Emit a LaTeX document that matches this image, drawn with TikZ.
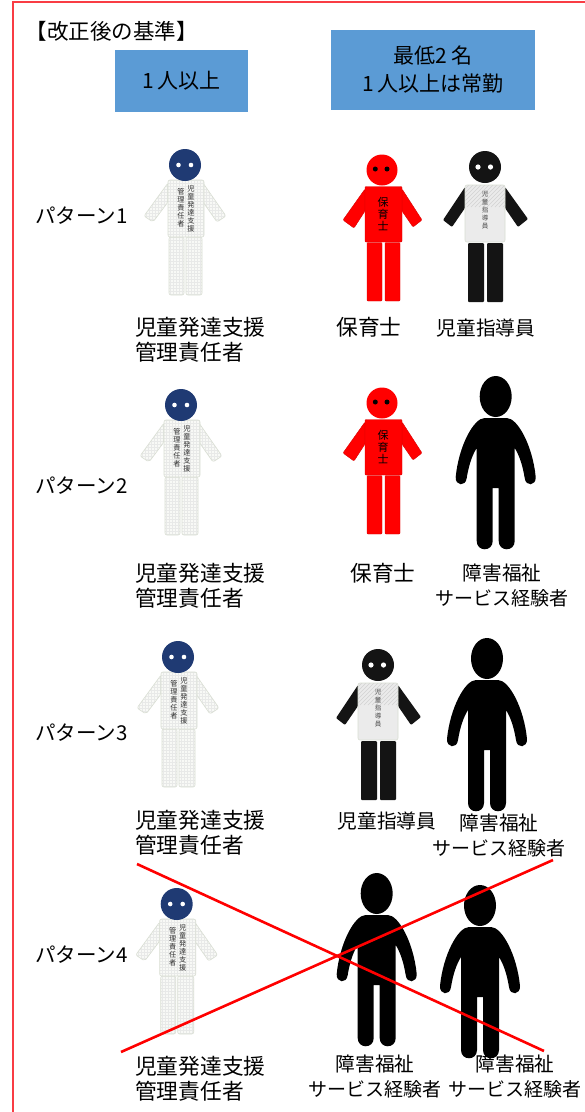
\documentclass[tikz,border=0pt]{standalone}
\usepackage{fontspec}
\setmainfont{Noto Sans CJK JP}
\definecolor{boxblue}{HTML}{5B9BD5}
\definecolor{navyhead}{HTML}{1F3A73}
\definecolor{framered}{HTML}{F93C44}
\definecolor{suitfill}{HTML}{F8F9F6}
\definecolor{suitline}{HTML}{D9DED3}
\definecolor{suitgrid}{HTML}{E8E9E8}
\newcommand{\szL}{\fontsize{21.7}{24.5}\selectfont}
\newcommand{\szM}{\fontsize{19.7}{25}\selectfont}
\newcommand{\szS}{\fontsize{19}{25}\selectfont}
\newcommand{\szH}{\fontsize{21}{28}\selectfont}
\tikzset{
  frameline/.style={draw=framered,line width=2pt},
  crossline/.style={draw=red,line width=2.6pt},
  hdrbox/.style={fill=boxblue,draw=none,inner sep=0pt,align=center,font=\szH,text=black},
  lbl/.style={inner sep=0pt,align=center,font=\szM,text=black},
  lbll/.style={inner sep=0pt,align=left,anchor=west,font=\szL,text=black},
  rowlbl/.style={inner sep=0pt,anchor=west,font=\fontsize{20.5}{25}\selectfont,text=black},
  suit/.style={fill=suitfill,draw=suitline,line width=.6pt,rounded corners=2pt,
    path picture={\draw[suitgrid,line width=.3pt] (path picture bounding box.south west) grid[step=3pt] (path picture bounding box.north east);}},
  vest/.style={fill=white!92!black,draw=suitline,line width=.6pt,rounded corners=2pt,
    path picture={\foreach \k in {-90,-86,...,90}{\draw[gray!35,line width=.4pt] (\k pt,-40pt) -- ++(80pt,80pt);}}},
  redpart/.style={fill=red,draw=red!85!black,line width=.4pt,rounded corners=1pt},
  blkpart/.style={fill=black!92,draw=none,rounded corners=1pt},
  vtext/.style={inner sep=0pt,align=center,text=black!80,font=\fontsize{7.2}{8}\selectfont},
}
% navy-headed suit figure: head centre, name
\newcommand{\suitfig}[3]{%
\begin{scope}[shift={(#1,#2)}]
  \path[suit] (-17,18) -- (-41,51) -- (-32,57) -- (-17,37) -- cycle;
  \path[suit] (18,18) -- (41,51) -- (32,57) -- (18,37) -- cycle;
  \path[suit] (-16,72) rectangle (-1,130);
  \path[suit] (1,72) rectangle (17,130);
  \path[suit] (-17,15) rectangle (19,72);
  \fill[navyhead] (0,0) circle (16);
  \fill[white] (-6.5,0) circle (2.3) (6,0) circle (2.3);
  \node[vtext] (#3a) at (6,44) {児\\童\\発\\達\\支\\援};
  \node[vtext] (#3b) at (-4,43) {管\\理\\責\\任\\者};
\end{scope}}
% red figure
\newcommand{\redfig}[3]{%
\begin{scope}[shift={(#1,#2)}]
  \path[redpart] (-17,19) -- (-39,50) -- (-28,58) -- (-17,41) -- cycle;
  \path[redpart] (20,19) -- (40,50) -- (31,57) -- (20,41) -- cycle;
  \path[redpart] (-15,72.5) rectangle (0,131);
  \path[redpart] (3,72.5) rectangle (18,131);
  \path[redpart] (-17,16.5) rectangle (20,72);
  \fill[red] (0,0) circle (15.5);
  \fill[black] (-6.7,-1) circle (2.5) (5,-1) circle (2.5);
  \node[inner sep=0pt,align=center,text=black,font=\fontsize{11}{12}\selectfont] (#3a) at (1,44) {保\\育\\士};
\end{scope}}
% black-armed figure
\newcommand{\armfig}[3]{%
\begin{scope}[shift={(#1,#2)}]
  \path[blkpart] (-20,20) -- (-42,53) -- (-33,60) -- (-20,41) -- cycle;
  \path[blkpart] (20,20) -- (43,52) -- (33,60) -- (20,41) -- cycle;
  \path[blkpart] (-17,76) rectangle (-1,135);
  \path[blkpart] (2,76) rectangle (18,135);
  \path[vest] (-20,18) rectangle (20,75);
  \fill[black!92] (0,0) circle (16);
  \fill[white] (-7,0) circle (2.6) (5.5,0) circle (2.6);
  \node[vtext,text=black!70,font=\fontsize{6.5}{8}\selectfont] (#3a) at (0,43) {児\\童\\指\\導\\員};
\end{scope}}
% black silhouette: top centre of head
\newcommand{\silfig}[2]{%
\begin{scope}[shift={(#1,#2)}]
  \fill[black] (0,20.5) ellipse (16 and 20.5);
  \fill[black] (-11,42) -- (11,42)
    .. controls (22,42) and (37,70) .. (40,101)
    .. controls (40.5,110) and (30,111) .. (29,102)
    .. controls (27,90) and (24,80) .. (19,72)
    -- (19,165) .. controls (19,176) and (3,176) .. (3,165)
    -- (3,112) -- (-3,112) -- (-3,165)
    .. controls (-3,176) and (-19,176) .. (-19,165)
    -- (-19,72) .. controls (-24,80) and (-27,90) .. (-29,102)
    .. controls (-30,111) and (-40.5,110) .. (-40,101)
    .. controls (-37,70) and (-22,42) .. (-11,42) -- cycle;
\end{scope}}
\begin{document}
\begin{tikzpicture}[x=1pt,y=-1pt]
\useasboundingbox (0,0) rectangle (585,1112);
\fill[white] (0,0) rectangle (585,1112);

\coordinate (frameTL) at (12.5,1.5);
\coordinate (frameTR) at (585,1.5);
\coordinate (frameBL) at (12.5,1112);
\draw[frameline] (frameBL) -- (frameTL) -- (frameTR);

\node[lbl,anchor=west,font=\fontsize{21.5}{24}\selectfont] (title) at (25.5,31) {【改正後の基準】};
\node[hdrbox,minimum width=133pt,minimum height=62pt] (hdrA) at (181.5,81) {1\,人以上};
\node[hdrbox,minimum width=204pt,minimum height=80pt] (hdrB) at (433,70) {最低2\,名\\1\,人以上は常勤};

\node[rowlbl] (row1) at (35,216) {パターン1};
\node[rowlbl] (row2) at (35,486) {パターン2};
\node[rowlbl] (row3) at (35,733) {パターン3};
\node[rowlbl] (row4) at (35,955) {パターン4};

% pattern 1
\suitfig{185}{165}{s1}
\redfig{382}{170}{r1}
\armfig{485}{167}{k1}
\node[lbll] (l1a) at (135,340) {児童発達支援\\管理責任者};
\node[lbl,font=\szL] (l1b) at (369,327) {保育士};
\node[lbl] (l1c) at (486,328) {児童指導員};

% pattern 2
\suitfig{181}{405}{s2}
\redfig{382}{403}{r2}
\silfig{495.7}{376}
\node[lbll] (l2a) at (135,586) {児童発達支援\\管理責任者};
\node[lbl,font=\szL] (l2b) at (383,573) {保育士};
\node[lbl] (l2c) at (502,585) {障害福祉\\{\szS サービス経験者}};

% pattern 3
\suitfig{178}{657}{s3}
\armfig{378}{665}{k3}
\silfig{487}{638}
\node[lbll] (l3a) at (135,833) {児童発達支援\\管理責任者};
\node[lbl] (l3b) at (387,821) {児童指導員};
\node[lbl] (l3c) at (499,835) {障害福祉\\{\szS サービス経験者}};

% pattern 4
\suitfig{176.7}{904}{s4}
\silfig{376.7}{873}
\silfig{480}{885}
\node[lbll] (l4a) at (135,1079) {児童発達支援\\管理責任者};
\node[lbl] (l4b) at (375,1076) {障害福祉\\{\szS サービス経験者}};
\node[lbl] (l4c) at (515,1076) {障害福祉\\{\szS サービス経験者}};

% cross
\coordinate (xa) at (137,864);
\coordinate (xb) at (544,1051);
\coordinate (xc) at (121,1052);
\coordinate (xd) at (553,860);
\draw[crossline] (xa) -- (xb);
\draw[crossline] (xc) -- (xd);
\end{tikzpicture}
\end{document}
